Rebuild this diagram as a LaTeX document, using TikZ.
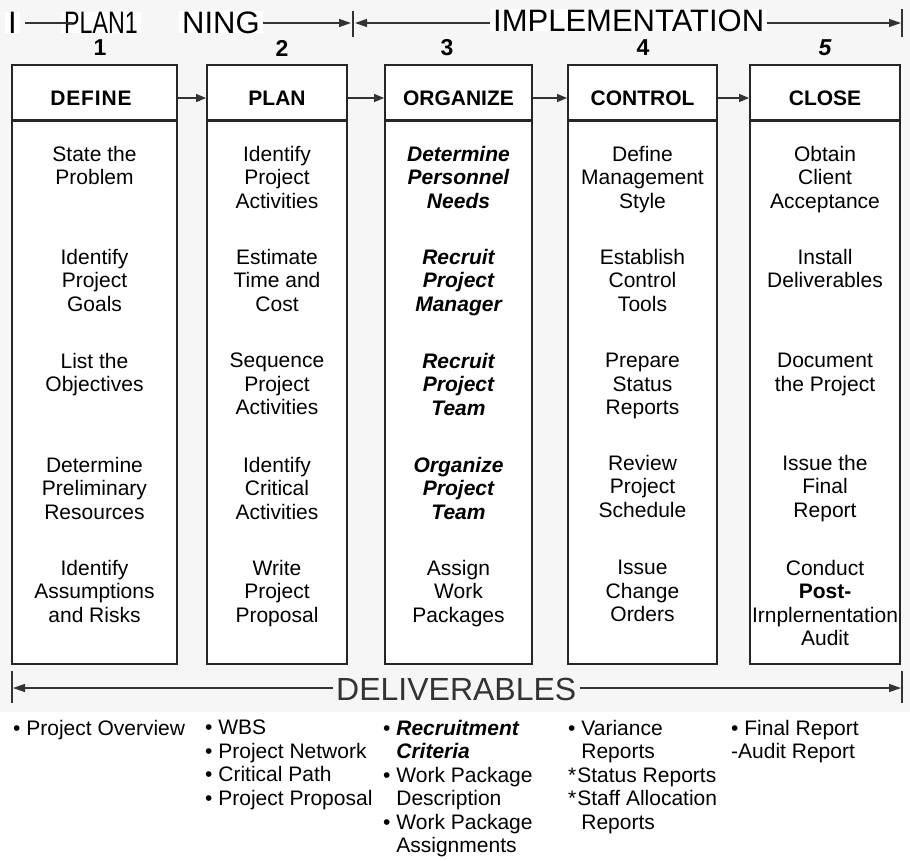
\documentclass[tikz,border=0pt]{standalone}
\usepackage{fontspec}
\setmainfont{Liberation Sans}
\usetikzlibrary{arrows.meta}
\begin{document}
\begin{tikzpicture}[x=1pt,y=-1pt,
  ink/.style={draw=black!85, line width=1.8pt},
  phasebox/.style={ink, fill=white, inner sep=0pt},
  rule/.style={draw=black!80, line width=1.3pt},
  tip/.style={-{Triangle[length=12pt,width=8pt]}},
  smalltip/.style={-{Triangle[length=10pt,width=8pt]}},
  title/.style={inner xsep=3pt, inner ysep=0pt, font=\fontsize{31}{34}\selectfont},
  headlabel/.style={inner sep=0pt, font=\fontsize{21}{23.5}\selectfont\bfseries},
  num/.style={inner sep=0pt, font=\fontsize{23}{25}\selectfont\bfseries},
  item/.style={anchor=north, align=center, inner sep=0pt, font=\fontsize{21}{23.5}\selectfont},
  keyitem/.style={item, font=\fontsize{21}{23.5}\selectfont\bfseries\itshape},
  list/.style={anchor=north west, align=left, inner sep=0pt, font=\fontsize{21}{23.5}\selectfont}
]
\useasboundingbox (0,0) rectangle (910,860);
\fill[gray!7] (0,0) rectangle (910,712);

% ---- phase row: title line ----
\node[title, anchor=base west, fill=white] (tI) at (5,33) {I};
\node[title, anchor=base west, fill=white] (tplan) at (61,33) {\scalebox{0.75}[1]{PLAN1}};
\node[title, anchor=base west, fill=white] (tning) at (179,33) {NING};
\node[title, anchor=base west, fill=white] (timpl) at (490,31) {IMPLEMENTATION};
\coordinate (sA) at (25,23);
\coordinate (sB) at (72,23);
\coordinate (midtick) at (353,23);
\coordinate (endtick) at (902,23);
\draw[rule] (sA) -- (sB);
\draw[rule, tip] (tning.east |- midtick) -- ([xshift=-2pt]midtick);
\draw[rule, tip] (timpl.west |- midtick) -- ([xshift=2pt]midtick);
\draw[rule, tip] (timpl.east |- endtick) -- ([xshift=-1pt]endtick);
\draw[rule] ([yshift=-14pt]midtick) -- ([yshift=12pt]midtick);
\draw[rule] ([yshift=-14pt]endtick) -- ([yshift=14pt]endtick);

% ---- phase numbers ----
\node[num] (n1) at (100,48) {1};
\node[num] (n2) at (282,48) {2};
\node[num] (n3) at (447,48) {3};
\node[num] (n4) at (643,48) {4};
\node[num] (n5) at (825,48) {\itshape 5};

% ---- column bodies ----
\node[phasebox, anchor=north, minimum width=165pt, minimum height=543pt] (c1) at (94.5,120) {};
\node[phasebox, anchor=north, minimum width=140pt, minimum height=543pt] (c2) at (277,120) {};
\node[phasebox, anchor=north, minimum width=147pt, minimum height=543pt] (c3) at (458.5,120) {};
\node[phasebox, anchor=north, minimum width=149pt, minimum height=543pt] (c4) at (642.5,120) {};
\node[phasebox, anchor=north, minimum width=150pt, minimum height=543pt] (c5) at (825,120) {};

% ---- column headers ----
\node[phasebox, minimum width=165pt, minimum height=55pt] (h1) at (94.5,92.5) {};
\node[phasebox, minimum width=140pt, minimum height=55pt] (h2) at (277,92.5) {};
\node[phasebox, minimum width=147pt, minimum height=55pt] (h3) at (458.5,92.5) {};
\node[phasebox, minimum width=149pt, minimum height=55pt] (h4) at (642.5,92.5) {};
\node[phasebox, minimum width=150pt, minimum height=55pt] (h5) at (825,92.5) {};
\node[headlabel] (l1) at (91,98) {\addfontfeatures{LetterSpace=4}DEFINE};
\node[headlabel] (l2) at (277,98) {PLAN};
\node[headlabel] (l3) at (458.5,98) {ORGANIZE};
\node[headlabel] (l4) at (642.5,98) {CONTROL};
\node[headlabel] (l5) at (825,98) {CLOSE};
\draw[rule, smalltip] (l1 -| h1.east) -- (l1 -| h2.west);
\draw[rule, smalltip] (l2 -| h2.east) -- (l2 -| h3.west);
\draw[rule, smalltip] (l3 -| h3.east) -- (l3 -| h4.west);
\draw[rule, smalltip] (l4 -| h4.east) -- (l4 -| h5.west);

% ---- column 1: define ----
\node[item] (t11) at (94.5,146) {State the\\Problem};
\node[item] (t12) at (94.5,249) {Identify\\Project\\Goals};
\node[item] (t13) at (94.5,353) {List the\\Objectives};
\node[item] (t14) at (94.5,457) {Determine\\Preliminary\\Resources};
\node[item] (t15) at (94.5,560) {Identify\\Assumptions\\and Risks};

% ---- column 2: plan ----
\node[item] (t21) at (277,146) {Identify\\Project\\Activities};
\node[item] (t22) at (277,249) {Estimate\\Time and\\Cost};
\node[item] (t23) at (277,353) {Sequence\\Project\\Activities};
\node[item] (t24) at (277,457) {Identify\\Critical\\Activities};
\node[item] (t25) at (277,560) {Write\\Project\\Proposal};

% ---- column 3: organize ----
\node[keyitem] (t31) at (458.5,146) {Determine\\Personnel\\Needs};
\node[keyitem] (t32) at (458.5,249) {Recruit\\Project\\Manager};
\node[keyitem] (t33) at (458.5,353) {Recruit\\Project\\Team};
\node[keyitem] (t34) at (458.5,457) {Organize\\Project\\Team};
\node[item] (t35) at (458.5,560) {Assign\\Work\\Packages};

% ---- column 4: control ----
\node[item] (t41) at (642.5,146) {Define\\Management\\Style};
\node[item] (t42) at (642.5,249) {Establish\\Control\\Tools};
\node[item] (t43) at (642.5,353) {Prepare\\Status\\Reports};
\node[item] (t44) at (642.5,455) {Review\\Project\\Schedule};
\node[item] (t45) at (642.5,560) {Issue\\Change\\Orders};

% ---- column 5: close ----
\node[item] (t51) at (825,146) {Obtain\\Client\\Acceptance};
\node[item] (t52) at (825,249) {Install\\Deliverables};
\node[item] (t53) at (825,353) {Document\\the Project};
\node[item] (t54) at (825,455) {Issue the\\Final\\Report};
\node[item] (t55) at (825,560) {Conduct\\\textbf{Post-}\\Irnplernentation\\Audit};

% ---- deliverables band ----
\node[inner xsep=3pt, inner ysep=0pt, anchor=base west, text=black!80,
      font=\fontsize{32}{35}\selectfont] (deliv) at (333,700) {DELIVERABLES};
\coordinate (dl) at (12,688);
\coordinate (dr) at (902,688);
\draw[rule, tip] (deliv.west |- dl) -- ([xshift=1pt]dl);
\draw[rule, tip] (deliv.east |- dr) -- ([xshift=-1pt]dr);
\draw[rule] ([yshift=-15pt]dl) -- ([yshift=17pt]dl);
\draw[rule] ([yshift=-15pt]dr) -- ([yshift=17pt]dr);

% ---- deliverable lists ----
\node[list] (d1) at (13,720) {• Project Overview};
\node[list] (d2) at (205,720) {• WBS\\• Project Network\\• Critical Path\\• Project Proposal};
\node[list] (d3) at (383,720) {• \textbf{\textit{Recruitment}}\\\phantom{• }\textbf{\textit{Criteria}}\\• Work Package\\\phantom{• }Description\\• Work Package\\\phantom{• }Assignments};
\node[list] (d4) at (568,720) {• Variance\\\phantom{• }Reports\\*\kern1pt Status Reports\\*\kern1pt Staff Allocation\\\phantom{• }Reports};
\node[list] (d5) at (731,720) {• Final Report\\-Audit Report};
\end{tikzpicture}
\end{document}
